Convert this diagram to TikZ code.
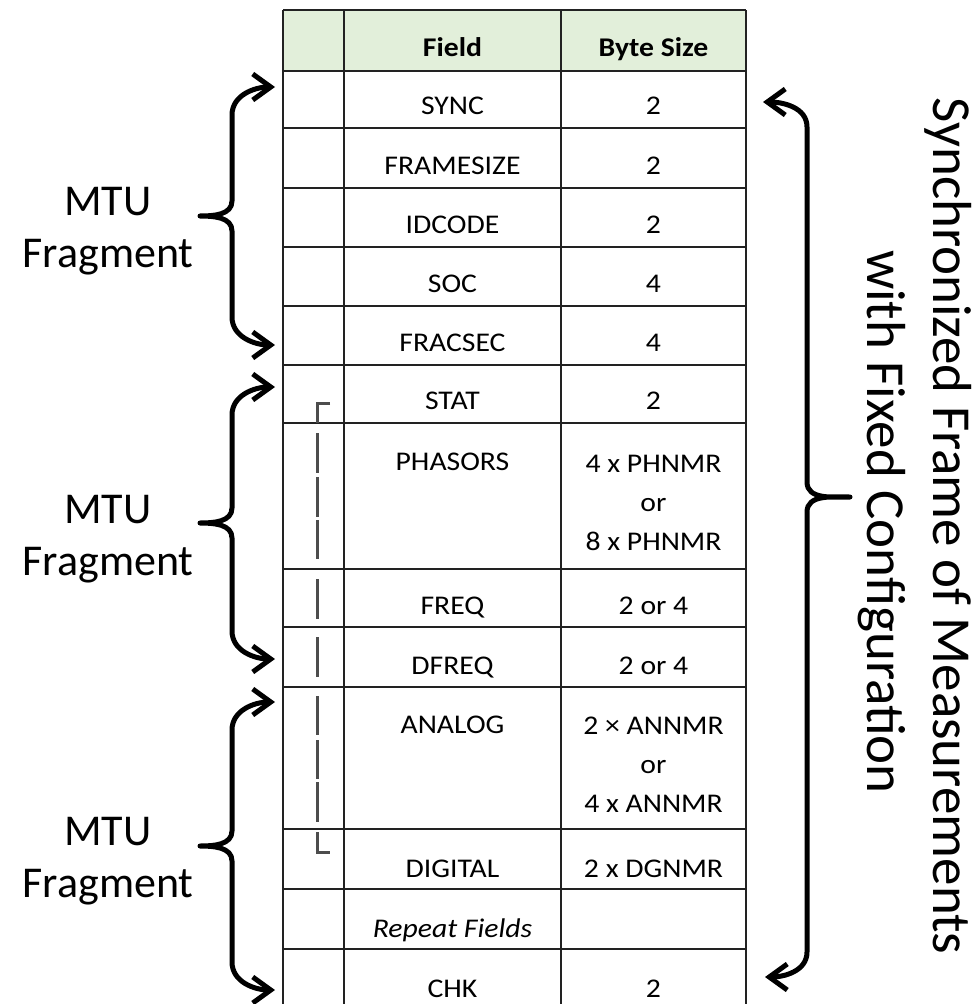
\documentclass[tikz,border=0pt]{standalone}
\usepackage{fontspec}
\setmainfont{Carlito}
\newfontfamily\tabfont[FakeStretch=1.1]{Carlito}
\usetikzlibrary{arrows.meta}
\definecolor{headgreen}{HTML}{E2EFDA}
\definecolor{tabgray}{HTML}{222222}
\definecolor{markgray}{HTML}{4D4D4D}

\begin{document}
\begin{tikzpicture}%
    [x = 1pt, y = -1pt,
     >={Straight Barb[length=18pt, width=26pt]},
     brace/.style = {<->, line width = 5pt, line join = round},
     cell/.style = {inner sep = 0pt, anchor = base, font = \tabfont\fontsize{27}{39}\selectfont},
     multi/.style = {cell, anchor = center, align = center},
     tabline/.style = {line width = 1.6pt, draw = tabgray},
     dashmark/.style = {line width = 3pt, draw = markgray},
     mtu/.style = {align = center, inner sep = 0pt, font = \fontsize{44}{52}\selectfont},
     sidetext/.style = {rotate = -90, anchor = base, inner sep = 0pt, font = \fontsize{55}{66}\selectfont}]
    \useasboundingbox (0, 0) rectangle (977, 1004);

    % table
    \fill[headgreen] (283, 10) rectangle (746, 71);
    \foreach \y in {10, 71, 128, 188, 247, 306, 365, 423, 569, 627, 687, 829, 889, 949}
        \draw[tabline] (283, \y) -- (746, \y);
    \foreach \x in {283, 344, 561, 746}
        \draw[tabline] (\x, 10) -- (\x, 1004);

    \node[cell, font = \tabfont\fontsize{27}{39}\selectfont\bfseries] (hfield) at (452.5, 56) {Field};
    \node[cell, font = \tabfont\fontsize{27}{39}\selectfont\bfseries] (hsize) at (653.5, 56) {Byte Size};

    \node[cell] (sync) at (452.5, 114) {SYNC};
    \node[cell] (syncb) at (653.5, 114) {2};
    \node[cell] (fsize) at (452.5, 174) {FRAMESIZE};
    \node[cell] (fsizeb) at (653.5, 174) {2};
    \node[cell] (idcode) at (452.5, 233) {IDCODE};
    \node[cell] (idcodeb) at (653.5, 233) {2};
    \node[cell] (soc) at (452.5, 292) {SOC};
    \node[cell] (socb) at (653.5, 292) {4};
    \node[cell] (fracsec) at (452.5, 351) {FRACSEC};
    \node[cell] (fracsecb) at (653.5, 351) {4};
    \node[cell] (stat) at (452.5, 409) {STAT};
    \node[cell] (statb) at (653.5, 409) {2};
    \node[cell] (phasors) at (452.5, 470) {PHASORS};
    \node[multi] (phasorsb) at (653.5, 503) {4 x PHNMR\\or\\8 x PHNMR};
    \node[cell] (freq) at (452.5, 614) {FREQ};
    \node[cell] (freqb) at (653.5, 614) {2 or 4};
    \node[cell] (dfreq) at (452.5, 674) {DFREQ};
    \node[cell] (dfreqb) at (653.5, 674) {2 or 4};
    \node[cell] (analog) at (452.5, 733) {ANALOG};
    \node[multi] (analogb) at (653.5, 765) {2 × ANNMR\\or\\4 x ANNMR};
    \node[cell] (digital) at (452.5, 877) {DIGITAL};
    \node[cell] (digitalb) at (653.5, 877) {2 x DGNMR};
    \node[cell, font = \tabfont\fontsize{27}{39}\selectfont\itshape] (repeat) at (452.5, 937) {Repeat Fields};
    \node[cell] (chk) at (452.5, 997) {CHK};
    \node[cell] (chkb) at (653.5, 997) {2};

    % dashed bracket in the first column
    \draw[dashmark] (330, 403) -- (317, 403) -- (317, 423);
    \foreach \a/\b in {433/473, 477/517, 520/559, 579/619, 637/677, 696/735, 740/779, 782/822}
        \draw[dashmark] (317, \a) -- (317, \b);
    \draw[dashmark] (317, 832) -- (317, 852) -- (330, 852);

    % left braces
    \coordinate (a1) at (275, 87);
    \coordinate (a2) at (200, 216);
    \coordinate (a3) at (275, 345);
    \coordinate (b1) at (275, 387);
    \coordinate (b2) at (200, 523);
    \coordinate (b3) at (275, 659);
    \coordinate (c1) at (275, 702);
    \coordinate (c2) at (200, 846);
    \coordinate (c3) at (275, 990);

    \draw[brace] (a1) to[out=180, in=90] (232, 115) -- (232, 201)
        to[out=-90, in=0] (a2) to[out=0, in=90] (232, 231) -- (232, 317)
        to[out=-90, in=180] (a3);
    \draw[brace] (b1) to[out=180, in=90] (232, 415) -- (232, 508)
        to[out=-90, in=0] (b2) to[out=0, in=90] (232, 538) -- (232, 631)
        to[out=-90, in=180] (b3);
    \draw[brace] (c1) to[out=180, in=90] (232, 730) -- (232, 831)
        to[out=-90, in=0] (c2) to[out=0, in=90] (232, 861) -- (232, 962)
        to[out=-90, in=180] (c3);

    \node[mtu] (fragA) at (108, 231.6) {MTU\\Fragment};
    \node[mtu] (fragB) at (108, 539.6) {MTU\\Fragment};
    \node[mtu] (fragC) at (108, 861.6) {MTU\\Fragment};

    % right brace
    \coordinate (r1) at (763, 102);
    \coordinate (r2) at (850, 497);
    \coordinate (r3) at (765, 977);
    \draw[brace] (r1) to[out=0, in=90] (807, 127) -- (807, 482)
        to[out=-90, in=180] (r2) to[out=180, in=90] (807, 512) -- (807, 952)
        to[out=-90, in=0] (r3);

    \node[sidetext] (sync1) at (933, 526) {Synchronized Frame of Measurements};
    \node[sidetext] (sync2) at (867, 522) {with Fixed Configuration};
\end{tikzpicture}
\end{document}
